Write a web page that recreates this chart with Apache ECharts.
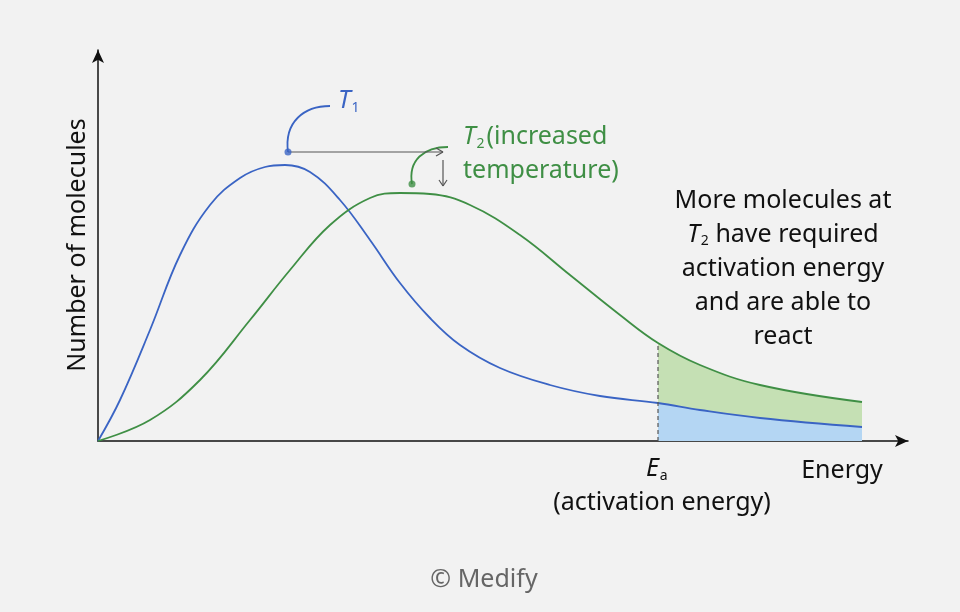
<!DOCTYPE html>
<html><head><meta charset="utf-8">
<script src="https://cdn.jsdelivr.net/npm/echarts@6/dist/echarts.min.js"></script>
<style>html,body{margin:0;background:#f2f2f2}#c{width:960px;height:612px}</style>
</head><body><div id="c"></div>
<script>
// energy (arbitrary units) and molecule counts (arbitrary units)
const blueX = [0,22,52,82,112,142,167,187,212,242,272,302,332,362,402,452,502,560,602,662,764];
const blueY = [0,41,111,186,236,263,274,276,269,241,201,158,123,96,73,56,45,38,31,23,14];
const greenX = [0,52,102,152,192,232,272,302,332,372,422,472,522,560,602,662,764];
const greenY = [0,21,61,121,171,216,243,248,247,236,206,166,126,98,76,56,39];
const Ea = 560;
const t1Peak = [190, 289];
const t2Peak = [314, 257];

const pts = (xs, ys) => xs.map((x, i) => [x, ys[i]]);
const shadeB = pts(blueX, blueY).filter(p => p[0] >= Ea);
const shadeG = pts(greenX, greenY).filter(p => p[0] >= Ea);
const F = '"Noto Sans", sans-serif';
const FS = 25;
const chart = echarts.init(document.getElementById('c'));
const arrow = (x1,y1,x2,y2) => ({type:'line',shape:{x1,y1,x2,y2},style:{stroke:'#555',lineWidth:1.2}});
chart.setOption({
  backgroundColor:'#f2f2f2',
  animation:false,
  grid:{left:98,right:52,top:50,bottom:171},
  xAxis:{type:'value',min:0,max:810,axisLine:{lineStyle:{color:'#111',width:1.5},symbol:['none','arrow'],symbolSize:[9,13]},axisTick:{show:false},axisLabel:{show:false},splitLine:{show:false}},
  yAxis:{type:'value',min:0,max:391,axisLine:{show:true,lineStyle:{color:'#111',width:1.5},symbol:['none','arrow'],symbolSize:[9,13]},axisTick:{show:false},axisLabel:{show:false},splitLine:{show:false}},
  series:[
    {type:'line',data:shadeG,smooth:0.4,showSymbol:false,lineStyle:{width:0},areaStyle:{color:'#c5e0b4',opacity:1}},
    {type:'line',data:shadeB,smooth:0.4,showSymbol:false,lineStyle:{width:0},areaStyle:{color:'#b4d6f3',opacity:1}},
    {type:'line',data:pts(blueX,blueY),smooth:0.4,showSymbol:false,lineStyle:{color:'#3a64c4',width:1.8}},
    {type:'line',data:pts(greenX,greenY),smooth:0.4,showSymbol:false,lineStyle:{color:'#3f8f45',width:1.8}},
    {type:'line',data:[[Ea,0],[Ea,98]],showSymbol:false,lineStyle:{color:'#555',width:1.2,type:[4,3]}},
    {type:'scatter',data:[t1Peak],symbolSize:7,itemStyle:{color:'#3a64c4'}},
    {type:'scatter',data:[t2Peak],symbolSize:7,itemStyle:{color:'#3f8f45'}}
  ],
  graphic:[
    {type:'bezierCurve',shape:{x1:288,y1:152,x2:330,y2:106,cpx1:284,cpy1:122,cpx2:304,cpy2:106},style:{stroke:'#3a64c4',lineWidth:1.8,fill:null}},
    {type:'bezierCurve',shape:{x1:412,y1:184,x2:448,y2:147,cpx1:408,cpy1:160,cpx2:424,cpy2:147},style:{stroke:'#3f8f45',lineWidth:1.8,fill:null}},
    arrow(288,152,443,152),arrow(436,148,443,152),arrow(436,156,443,152),
    arrow(443,160,443,186),arrow(439,180,443,186),arrow(447,180,443,186),
    {type:'text',x:338,y:86,style:{text:'{i|T}{s|1}',rich:{i:{fontFamily:F,fontSize:FS,fontStyle:'italic',fill:'#3a64c4'},s:{fontFamily:F,fontSize:14,fill:'#3a64c4',padding:[15,0,0,1]}}}},
    {type:'text',x:463,y:120,style:{text:'{i|T}{s|2}{n|(increased}\n{n|temperature)}',rich:{i:{fontFamily:F,fontSize:FS,fontStyle:'italic',fill:'#3f8f45',lineHeight:34},s:{fontFamily:F,fontSize:14,fill:'#3f8f45',padding:[15,2,0,1]},n:{fontFamily:F,fontSize:FS,fill:'#3f8f45',lineHeight:34}}}},
    {type:'text',x:783,y:184,style:{align:'center',text:'{n|More molecules at}\n{i|T}{s|2}{n| have required}\n{n|activation energy}\n{n|and are able to}\n{n|react}',rich:{n:{fontFamily:F,fontSize:FS,fill:'#111',lineHeight:34},i:{fontFamily:F,fontSize:FS,fontStyle:'italic',fill:'#111',lineHeight:34},s:{fontFamily:F,fontSize:14,fill:'#111',padding:[13,0,0,1]}}}},
    {type:'text',x:78,y:245,rotation:Math.PI/2,style:{text:'Number of molecules',align:'center',verticalAlign:'middle',fontFamily:F,fontSize:FS,fill:'#111'}},
    {type:'text',x:842,y:471,style:{text:'Energy',align:'center',verticalAlign:'middle',fontFamily:F,fontSize:FS,fill:'#111'}},
    {type:'text',x:646,y:454,style:{text:'{i|E}{s|a}',rich:{i:{fontFamily:F,fontSize:FS,fontStyle:'italic',fill:'#111'},s:{fontFamily:F,fontSize:14,fill:'#111',padding:[15,0,0,1]}}}},
    {type:'text',x:662,y:503,style:{text:'(activation energy)',align:'center',verticalAlign:'middle',fontFamily:F,fontSize:FS,fill:'#111'}},
    {type:'text',x:484,y:580,style:{text:'© Medify',align:'center',verticalAlign:'middle',fontFamily:F,fontSize:FS,fill:'#666'}}
  ]
});
</script></body></html>
